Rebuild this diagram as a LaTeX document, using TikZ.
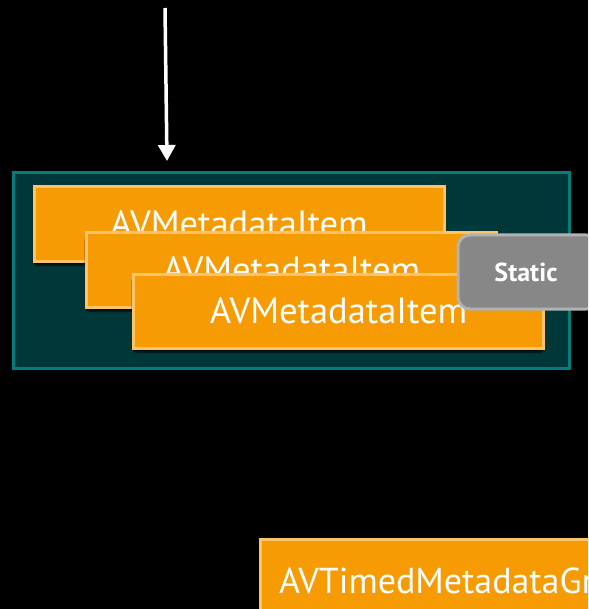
\documentclass[tikz,border=0pt]{standalone}
\usepackage{fontspec}
\setmainfont{PT Sans}
\usetikzlibrary{shadows.blur,arrows.meta}
\definecolor{bg}{HTML}{000000}
\definecolor{tealfill}{HTML}{00383A}
\definecolor{tealedge}{HTML}{007E7A}
\definecolor{itemfill}{HTML}{F79B05}
\definecolor{itemedge}{HTML}{FFC46A}
\definecolor{tagfill}{HTML}{878787}
\definecolor{tagedge}{HTML}{B2B2B2}
\tikzset{
  itembox/.style={draw=itemedge, line width=3pt, fill=itemfill, text=white,
    minimum width=410pt, minimum height=74pt, inner sep=0pt,
    font=\fontsize{36.5}{36.5}\selectfont,
    blur shadow={shadow xshift=0pt, shadow yshift=-4pt, shadow blur steps=8,
      shadow blur extra rounding=3pt, shadow opacity=90}},
  tagbox/.style={draw=tagedge, line width=3pt, fill=tagfill, text=white,
    rounded corners=12pt, minimum width=140pt, minimum height=74pt,
    font=\bfseries\fontsize{26}{26}\selectfont},
  group/.style={draw=tealedge, line width=3pt, fill=tealfill},
  flow/.style={draw=white, line width=3.5pt, -{Triangle[width=17pt,length=16pt]}}
}
\begin{document}
\begin{tikzpicture}[x=1pt,y=-1pt]
  \fill[bg] (0,0) rectangle (588,609);
  \clip (0,0) rectangle (588,609);
  \useasboundingbox (0,0) rectangle (588,609);
  % container for the static items
  \draw[group] (13.5,172.5) rectangle (569.5,368.5);
  % stacked metadata items
  \node[itembox] (item1) at (239,224) {AVMetadataItem};
  \node[itembox] (item2) at (291.5,270) {AVMetadataItem};
  \node[itembox] (item3) at (338.5,311) {AVMetadataItem};
  % tag on the group
  \node[tagbox, anchor=west] (tag) at (456.5,272) {\hspace*{-4pt}Static};
  % timed metadata group below
  \node[itembox, anchor=north west, minimum width=420pt, minimum height=90pt,
        align=left, text width=400pt, font=\fontsize{36}{36}\selectfont,
        blur shadow={shadow opacity=0}] (timed) at (258.5,537.5)
        {\hspace*{9pt}AVTimedMetadataGroup};
  % incoming arrow
  \coordinate (src) at (165,8);
  \coordinate (dst) at (167,161);
  \draw[flow] (src) -- (dst);
\end{tikzpicture}
\end{document}
